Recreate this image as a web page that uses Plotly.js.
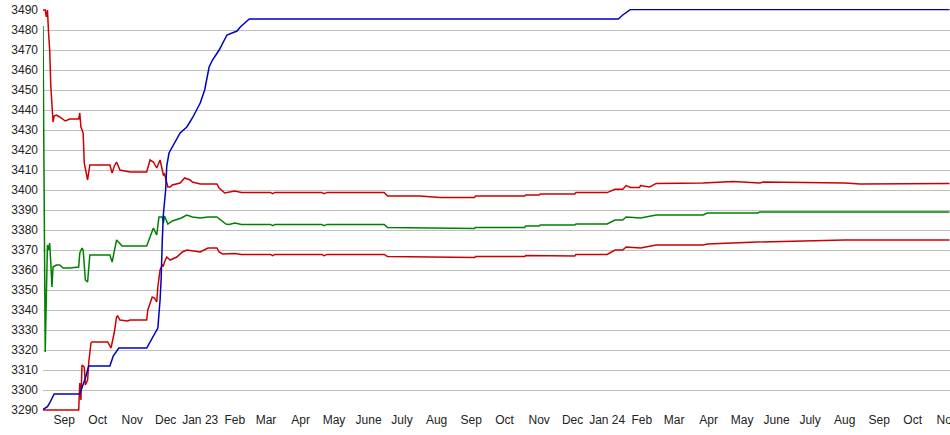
<!DOCTYPE html>
<html>
<head>
<meta charset="utf-8">
<script src="https://cdn.plot.ly/plotly-3.0.1.min.js"></script>
<style>html,body{margin:0;padding:0;background:#fff;}#chart{width:950px;height:435px;}</style>
</head>
<body>
<div id="chart"></div>
<script>
// ---- data ----
const tickDates = ['2022-09-01','2022-10-01','2022-11-01','2022-12-01','2023-01-01','2023-02-01','2023-03-01','2023-04-01','2023-05-01','2023-06-01','2023-07-01','2023-08-01','2023-09-01','2023-10-01','2023-11-01','2023-12-01','2024-01-01','2024-02-01','2024-03-01','2024-04-01','2024-05-01','2024-06-01','2024-07-01','2024-08-01','2024-09-01','2024-10-01','2024-11-01'];
const tickLabels = ['Sep','Oct','Nov','Dec','Jan 23','Feb','Mar','Apr','May','June','July','Aug','Sep','Oct','Nov','Dec','Jan 24','Feb','Mar','Apr','May','June','July','Aug','Sep','Oct','Nov'];

const blueDates = ['2022-08-13','2022-08-17','2022-08-19','2022-08-21','2022-08-23','2022-09-15','2022-09-20','2022-09-23','2022-10-12','2022-10-15','2022-10-20','2022-11-14','2022-11-17','2022-11-20','2022-11-22','2022-11-24','2022-11-26','2022-11-27','2022-11-28','2022-11-29','2022-12-01','2022-12-02','2022-12-04','2022-12-07','2022-12-14','2022-12-20','2022-12-25','2023-01-01','2023-01-05','2023-01-09','2023-01-12','2023-01-18','2023-01-25','2023-02-03','2023-02-06','2023-02-14','2024-01-11','2024-01-15','2024-01-19','2024-01-22','2024-11-03'];
const blueVals = [3290.3,3291.7,3293.5,3296,3298,3298,3306,3312,3312,3317,3321,3321,3324,3327.5,3329,3331,3345,3356,3375,3388,3400,3412,3418.5,3421.5,3428.5,3431.5,3436,3443.5,3450,3461.5,3465,3470,3477.5,3479.5,3481.5,3485.5,3485.5,3487.5,3489,3490.3,3490.3];

const upperDates = ['2022-08-13','2022-08-15','2022-08-16','2022-08-17','2022-08-18','2022-08-19','2022-08-20','2022-08-21','2022-08-22','2022-08-23','2022-08-25','2022-08-28','2022-09-02','2022-09-06','2022-09-14','2022-09-15','2022-09-16','2022-09-18','2022-09-19','2022-09-22','2022-09-24','2022-10-12','2022-10-14','2022-10-16','2022-10-18','2022-10-21','2022-10-30','2022-11-14','2022-11-17','2022-11-20','2022-11-23','2022-11-26','2022-11-28','2022-11-29','2022-11-30','2022-12-02','2022-12-03','2022-12-05','2022-12-07','2022-12-14','2022-12-18','2022-12-23','2022-12-25','2023-01-01','2023-01-16','2023-01-18','2023-01-23','2023-02-01','2023-02-07','2023-03-05','2023-03-07','2023-03-09','2023-04-20','2023-04-22','2023-04-25','2023-06-15','2023-06-18','2023-07-17','2023-08-04','2023-09-04','2023-09-05','2023-10-19','2023-10-20','2023-11-01','2023-11-02','2023-12-03','2023-12-04','2024-01-01','2024-01-08','2024-01-15','2024-01-18','2024-01-22','2024-01-30','2024-01-31','2024-02-08','2024-02-14','2024-03-27','2024-04-23','2024-05-17','2024-05-20','2024-08-01','2024-08-15','2024-11-03'];
const upperVals = [3490,3490,3486.5,3490,3478.5,3470,3452,3438.5,3434,3437,3437.5,3436.5,3434.5,3435.5,3435.5,3438.5,3431.5,3428.5,3413.5,3405,3412.5,3412.5,3408.5,3412,3414,3410,3409,3409,3415,3414,3411,3415,3409,3407.5,3408,3404,3401.5,3401.5,3402.5,3403.5,3406,3405,3404,3403,3403,3401,3398.5,3399.5,3398.8,3398.8,3398.2,3398.8,3398.8,3398.2,3398.8,3398.8,3397,3397,3396.3,3396.3,3397,3397,3397.5,3397.5,3398,3398,3398.7,3398.7,3400.4,3400.4,3402.2,3401.3,3401.3,3402.2,3401.5,3403.3,3403.5,3404.2,3403.5,3404,3403.5,3403,3403.2];

const greenDates = ['2022-08-13','2022-08-14','2022-08-15','2022-08-16','2022-08-17','2022-08-18','2022-08-19','2022-08-20','2022-08-21','2022-08-22','2022-08-25','2022-08-28','2022-08-31','2022-09-06','2022-09-14','2022-09-15','2022-09-17','2022-09-18','2022-09-20','2022-09-22','2022-09-24','2022-10-12','2022-10-14','2022-10-18','2022-10-23','2022-11-14','2022-11-20','2022-11-23','2022-11-25','2022-11-28','2022-11-29','2022-11-30','2022-12-03','2022-12-07','2022-12-15','2022-12-20','2022-12-25','2023-01-01','2023-01-08','2023-01-16','2023-01-20','2023-01-24','2023-01-27','2023-02-01','2023-02-07','2023-03-05','2023-03-07','2023-03-09','2023-04-20','2023-04-22','2023-04-25','2023-06-15','2023-06-18','2023-08-04','2023-09-04','2023-09-05','2023-10-19','2023-10-20','2023-11-01','2023-11-02','2023-12-03','2023-12-04','2024-01-01','2024-01-08','2024-01-15','2024-01-18','2024-01-31','2024-02-14','2024-03-27','2024-03-31','2024-05-15','2024-05-17','2024-11-03'];
const greenVals = [3482,3404,3319,3347,3372.5,3370,3373.5,3363.5,3351.5,3361.5,3362.5,3362.5,3361,3361,3361.5,3368.5,3371,3370,3355,3354,3367.5,3367.5,3364,3375,3372,3372,3381,3377.5,3386.5,3386.5,3383.5,3387,3383,3384.5,3386,3387.5,3386.5,3386,3386.5,3386.5,3384.5,3383,3382.8,3383.5,3382.8,3382.8,3382.2,3382.8,3382.8,3382.2,3382.8,3382.8,3381.2,3380.8,3380.8,3381.3,3381.3,3382,3382,3382.5,3382.5,3383,3383,3385,3385,3386.5,3386,3387.5,3387.5,3388.5,3388.5,3389,3389];

const lowerDates = ['2022-08-13','2022-09-14','2022-09-15','2022-09-16','2022-09-17','2022-09-19','2022-09-20','2022-09-22','2022-09-23','2022-09-25','2022-09-26','2022-10-10','2022-10-13','2022-10-15','2022-10-16','2022-10-18','2022-10-19','2022-10-21','2022-10-28','2022-10-30','2022-11-14','2022-11-15','2022-11-19','2022-11-21','2022-11-23','2022-11-24','2022-11-26','2022-11-28','2022-11-29','2022-11-30','2022-12-02','2022-12-05','2022-12-11','2022-12-16','2022-12-20','2023-01-01','2023-01-08','2023-01-16','2023-01-18','2023-01-21','2023-02-01','2023-02-07','2023-03-05','2023-03-07','2023-03-09','2023-04-20','2023-04-22','2023-04-25','2023-06-15','2023-06-18','2023-08-04','2023-09-04','2023-09-05','2023-10-19','2023-10-20','2023-11-01','2023-11-02','2023-12-03','2023-12-04','2024-01-01','2024-01-08','2024-01-15','2024-01-18','2024-01-31','2024-02-14','2024-03-27','2024-03-31','2024-05-15','2024-08-01','2024-11-03'];
const lowerVals = [3290,3290,3303.5,3295,3312.5,3311.5,3302.5,3305,3313.5,3323.5,3324,3324,3321,3326.5,3329,3336.5,3337,3335,3334.5,3335,3335,3340,3346.5,3346,3344,3351.5,3360,3362.5,3362,3364,3366.5,3365,3366.5,3369,3370,3369,3371,3371,3369,3368,3368.3,3367.8,3367.8,3367.2,3367.8,3367.8,3367.2,3367.8,3367.8,3366.7,3366.2,3366.2,3366.7,3366.7,3367.2,3367.2,3367,3367,3367.8,3367.8,3370,3370,3371.5,3371,3372.5,3372.5,3373,3374,3375,3375];

// ---- chart ----
const RED = '#cc0000', GREEN = '#008000', BLUE = '#0000c0';
const mk = (x, y, c) => ({x: x, y: y, type: 'scatter', mode: 'lines', line: {color: c, width: 1.5}, hoverinfo: 'skip'});
const traces = [
  mk(greenDates, greenVals, GREEN),
  mk(lowerDates, lowerVals, RED),
  mk(upperDates, upperVals, RED),
  mk(blueDates, blueVals, BLUE)
];

const layout = {
  width: 950, height: 435,
  margin: {l: 43, r: 0, t: 9, b: 24, pad: 0},
  paper_bgcolor: '#ffffff', plot_bgcolor: '#ffffff',
  showlegend: false,
  font: {family: '"Liberation Sans", Arial, sans-serif', size: 12, color: '#222222'},
  xaxis: {
    type: 'date',
    range: ['2022-08-13', '2024-11-03 12:00'],
    tickmode: 'array', tickvals: tickDates, ticktext: tickLabels,
    showgrid: false, zeroline: false, showline: false, ticks: '',
    tickfont: {size: 12, color: '#222222'},
    ticklabeloverflow: 'allow',
    automargin: false
  },
  yaxis: {
    range: [3289.5, 3490.5],
    tickmode: 'linear', tick0: 3290, dtick: 10,
    showgrid: true, gridcolor: '#c0c0c0', gridwidth: 1,
    zeroline: false, showline: false, ticks: '',
    ticklabelstandoff: 4,
    tickfont: {size: 12, color: '#222222'},
    automargin: false
  }
};

Plotly.newPlot('chart', traces, layout, {staticPlot: true, displayModeBar: false});
</script>
</body>
</html>
